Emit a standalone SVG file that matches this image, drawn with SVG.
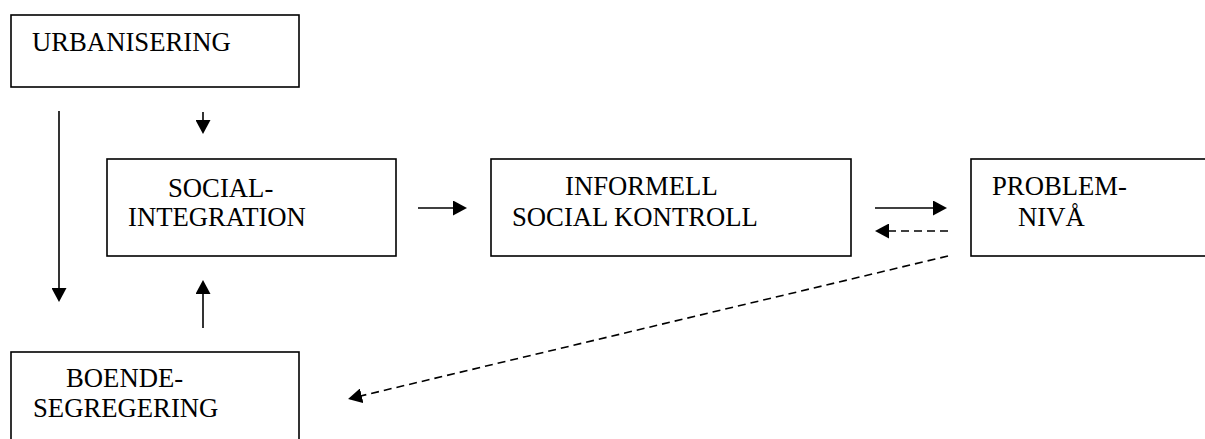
<svg xmlns="http://www.w3.org/2000/svg" width="1205" height="439" viewBox="0 0 1205 439">
<style>
.box{fill:#fff;stroke:#000;stroke-width:1.6}
.c{stroke:#000;stroke-width:1.6;fill:none}
.d{stroke-dasharray:8,5}
</style>
<defs>
<marker id="ah" viewBox="0 0 14 15" refX="12" refY="7.5" markerWidth="14" markerHeight="15" markerUnits="userSpaceOnUse" orient="auto">
<path d="M0,0 L14,7.5 L0,15 z" fill="#000"/>
</marker>
</defs>
<rect width="1205" height="439" fill="#fff"/>
<g id="urbanisering">
<rect class="box" x="11" y="15" width="288" height="72"/>
<text x="32" y="51" font-family="Liberation Serif" font-size="26.7">URBANISERING</text>
</g>
<g id="socialintegration">
<rect class="box" x="107" y="159" width="289" height="97"/>
<text x="168" y="197" font-family="Liberation Serif" font-size="26.7">SOCIAL-</text>
<text x="128" y="226" font-family="Liberation Serif" font-size="26.7">INTEGRATION</text>
</g>
<g id="informell">
<rect class="box" x="491" y="159" width="360" height="97"/>
<text x="565" y="195" font-family="Liberation Serif" font-size="26.7">INFORMELL</text>
<text x="512" y="226" font-family="Liberation Serif" font-size="26.7">SOCIAL KONTROLL</text>
</g>
<g id="problemniva">
<rect class="box" x="971" y="159" width="250" height="97"/>
<text x="992" y="195" font-family="Liberation Serif" font-size="26.7">PROBLEM-</text>
<text x="1018" y="226" font-family="Liberation Serif" font-size="26.7">NIVÅ</text>
</g>
<g id="boendesegregering">
<rect class="box" x="11" y="352" width="288" height="100"/>
<text x="66" y="387" font-family="Liberation Serif" font-size="26.7">BOENDE-</text>
<text x="33" y="417" font-family="Liberation Serif" font-size="26.7">SEGREGERING</text>
</g>
<g id="connectors">
<line class="c" x1="59" y1="111" x2="59" y2="300" marker-end="url(#ah)"/>
<line class="c" x1="203" y1="112" x2="203" y2="132" marker-end="url(#ah)"/>
<line class="c" x1="203" y1="328" x2="203" y2="282" marker-end="url(#ah)"/>
<line class="c" x1="418" y1="208" x2="465" y2="208" marker-end="url(#ah)"/>
<line class="c" x1="875" y1="208" x2="945" y2="208" marker-end="url(#ah)"/>
<line class="c d" x1="948" y1="231" x2="877" y2="231" marker-end="url(#ah)"/>
<line class="c d" x1="948" y1="256" x2="350" y2="398.5" marker-end="url(#ah)"/>
</g>
</svg>
